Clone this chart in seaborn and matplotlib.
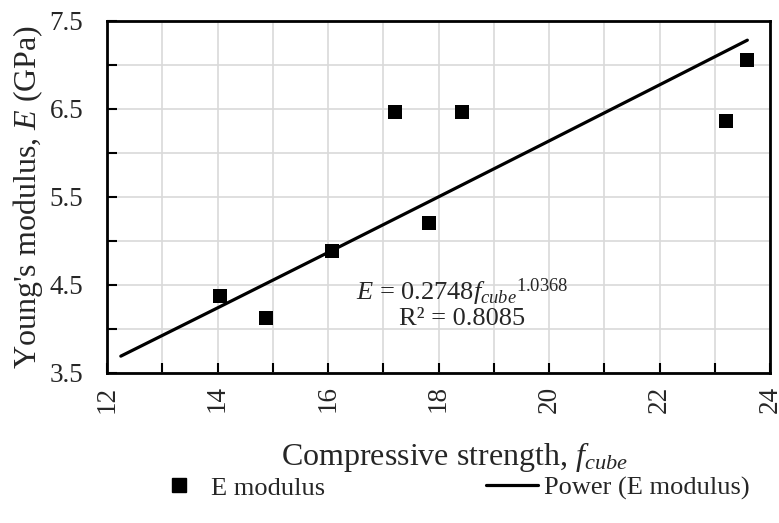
import numpy as np
import pandas as pd
import matplotlib
matplotlib.use("Agg")
import matplotlib.pyplot as plt
import seaborn as sns
from matplotlib.lines import Line2D
from matplotlib.ticker import MultipleLocator

# Data
strength = [14.05, 14.87, 16.08, 17.21, 17.83, 18.42, 23.20, 23.59]
modulus = [4.37, 4.13, 4.89, 6.47, 5.20, 6.47, 6.36, 7.06]
fit_coef = 0.2748
fit_exp = 1.0368
r_squared = 0.8085
trend_start = 12.25
trend_end = 23.59
x_ticks = [12, 14, 16, 18, 20, 22, 24]
y_ticks = [3.5, 4.5, 5.5, 6.5, 7.5]
legend_labels = ["E modulus", "Power (E modulus)"]

sns.set_style("white")
plt.rcParams['font.family'] = ['Liberation Serif', 'DejaVu Serif']
plt.rcParams['mathtext.fontset'] = 'custom'
plt.rcParams['mathtext.rm'] = 'Liberation Serif'
plt.rcParams['mathtext.it'] = 'Liberation Serif:italic'
plt.rcParams['mathtext.bf'] = 'Liberation Serif:bold'

W, H = 779, 523
fig = plt.figure(figsize=(W / 100, H / 100), dpi=100)
ax = fig.add_axes([107 / W, 1 - 373 / H, (770 - 107) / W, (373 - 21) / H])

df = pd.DataFrame({'x': strength, 'y': modulus})
trend_x = np.linspace(trend_start, trend_end, 200)
trend_df = pd.DataFrame({'x': trend_x, 'y': fit_coef * trend_x ** fit_exp})

sns.lineplot(data=trend_df, x='x', y='y', ax=ax, color='black', lw=2.3, zorder=3)
sns.scatterplot(data=df, x='x', y='y', ax=ax, marker='s', s=100, color='black',
                linewidth=0, zorder=4)

ax.set_xlim(12, 24)
ax.set_ylim(3.5, 7.5)
ax.set_xticks(x_ticks)
ax.set_xticklabels([str(t) for t in x_ticks])
ax.xaxis.set_minor_locator(MultipleLocator(1))
ax.set_yticks(y_ticks)
ax.set_yticklabels([f"{t:.1f}" for t in y_ticks])
ax.yaxis.set_minor_locator(MultipleLocator(0.5))

ax.tick_params(which='both', direction='in', length=7, width=1.5, color='black',
               bottom=True, left=True, top=False, right=False)
ax.tick_params(axis='x', which='major', labelrotation=90, labelsize=19.5, pad=9)
ax.tick_params(axis='y', which='major', labelsize=19.5, pad=17)
ax.grid(which='both', color='#d9d9d9', lw=1.2)
ax.set_axisbelow(True)
for s in ax.spines.values():
    s.set_visible(True)
    s.set_color('black')
    s.set_linewidth(2)

ax.set_xlabel("")
ax.set_ylabel("")
fig.text(454 / W, 1 - 465 / H, "Compressive strength, $f_{cube}$", fontsize=23,
         ha='center', va='baseline')
fig.text(28 / W, 1 - 197 / H, "Young's modulus, $E$ (GPa)", fontsize=23,
         ha='center', va='center', rotation=90)

ax.text(18.43, 4.33, r"$E$ = 0.2748$f_{cube}{}^{1.0368}$", fontsize=19,
        ha='center', va='baseline', zorder=5)
ax.text(18.43, 4.05, f"R² = {r_squared}", fontsize=19, ha='center', va='baseline', zorder=5)

handles = [Line2D([], [], marker='s', ls='none', color='black', ms=10),
           Line2D([], [], color='black', lw=2.3)]
fig.legend(handles, legend_labels, loc='center', bbox_to_anchor=(451 / W, 1 - 488 / H),
           ncol=2, frameon=False, fontsize=19, handlelength=1.97, handletextpad=0.23,
           columnspacing=6.1)

fig.savefig("out.png", dpi=100)
